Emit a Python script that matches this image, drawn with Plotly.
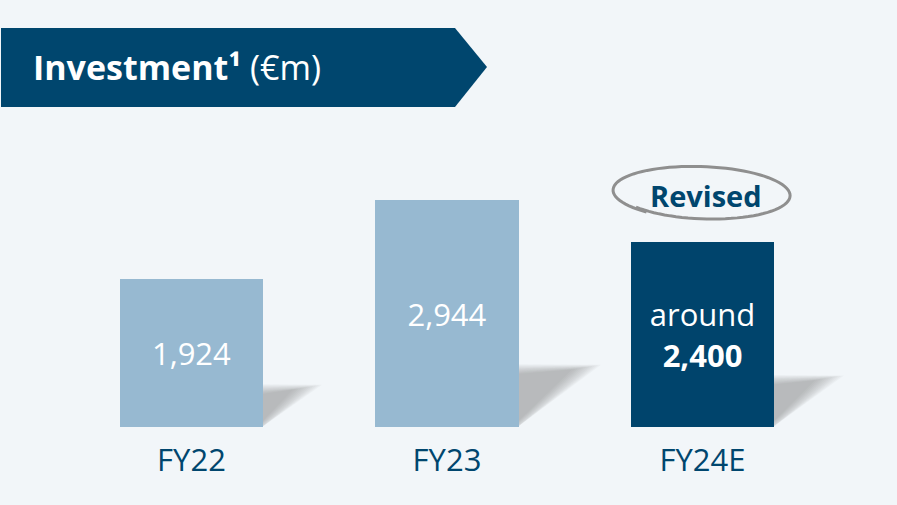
import math
import plotly.graph_objects as go

categories = ["FY22", "FY23", "FY24E"]
values = [1924, 2944, 2400]
value_labels = ["1,924", "2,944", "around<br><b>2,400</b>"]
bar_colors = ["#97b9d1", "#97b9d1", "#00446c"]
title_text = "<b>Investment¹</b> (€m)"
badge_text = "<b>Revised</b>"

W, H = 897, 505
BOTTOM = 78                      # px below baseline
PLOT_H = H - BOTTOM
UNITS_PER_PX = 12.97
PX_PER_CAT = 255.5
X0_PX = 191.5
BAR_W = 0.56

x_range = [-X0_PX / PX_PER_CAT, (W - X0_PX) / PX_PER_CAT]
y_range = [0, PLOT_H * UNITS_PER_PX]

BG = "#f2f6f9"
DARK = "#00466e"
FONT = "Open Sans"

fig = go.Figure()
fig.add_trace(go.Bar(
    x=list(range(len(categories))), y=values, width=BAR_W,
    marker=dict(color=bar_colors, line=dict(width=0)),
    text=value_labels, textposition="inside", insidetextanchor="middle",
    textfont=dict(color="white", size=31, family=FONT),
    hoverinfo="skip", cliponaxis=False,
))

shapes = []
# soft shadows cast to the right of each bar (many faint layers = blur)
grows = [-8, -6.4, -4.8, -3.2, -1.6, 0, 1.6, 3.2, 4.8, 6.4, 8]
for i, v in enumerate(values):
    xr = i + BAR_W / 2
    hpx = v / UNITS_PER_PX
    L = 0.30 * hpx
    Hs = 0.255 * hpx
    def pt(dx, dy):
        return (xr + dx / PX_PER_CAT, max(dy, 0) * UNITS_PER_PX)
    for g in grows:
        pts = [pt(-1, Hs + g * 0.6), pt(L + g * 1.8, Hs + 2 + g * 0.3),
               pt(-1, 1 - g * 0.5)]
        path = "M " + " L ".join(f"{a},{b}" for a, b in pts) + " Z"
        shapes.append(dict(type="path", path=path, xref="x", yref="y",
                           fillcolor="rgba(115,120,125,0.05)", line=dict(width=0),
                           layer="below"))

# banner ("paper" = plot area, which ends at the baseline)
def P(px, py):
    return (px / W, (PLOT_H - py) / PLOT_H)
bpts = [P(1, 28), P(455, 28), P(487, 67), P(455, 107), P(1, 107)]
shapes.append(dict(type="path", xref="paper", yref="paper",
                   path="M " + " L ".join(f"{a},{b}" for a, b in bpts) + " Z",
                   fillcolor=DARK, line=dict(width=0)))

# hand-drawn loop around "Revised" (slight overlap at lower left)
cx, cy, rx, ry, rot = 702, 193, 89, 26.5, 2.0
c, s_ = math.cos(math.radians(rot)), math.sin(math.radians(rot))
ept = []
n = 90
for k in range(n + 1):
    t = math.radians(128 + 372 * k / n)
    grow = 1 - 0.04 * (k / n) ** 3
    ex, ey = rx * grow * math.cos(t), ry * grow * math.sin(t)
    ept.append(P(cx + ex * c - ey * s_, cy + ex * s_ + ey * c))
shapes.append(dict(type="path", xref="paper", yref="paper",
                   path="M " + " L ".join(f"{a},{b}" for a, b in ept),
                   line=dict(color="#8f8f8f", width=3), fillcolor="rgba(0,0,0,0)"))

tx, ty = P(31, 67)
rx_, ry_ = P(706, 196)
annotations = [
    dict(text=title_text, xref="paper", yref="paper", x=tx, y=ty,
         xanchor="left", yanchor="middle", showarrow=False,
         font=dict(color="white", size=34, family=FONT)),
    dict(text=badge_text, xref="paper", yref="paper", x=rx_, y=ry_,
         xanchor="center", yanchor="middle", showarrow=False,
         font=dict(color=DARK, size=29, family=FONT)),
]

fig.update_layout(
    width=W, height=H, margin=dict(l=0, r=0, t=0, b=BOTTOM, pad=0),
    paper_bgcolor=BG, plot_bgcolor=BG, showlegend=False,
    shapes=shapes, annotations=annotations, bargap=0,
    xaxis=dict(range=x_range, tickvals=list(range(len(categories))), ticktext=categories,
               showgrid=False, zeroline=False, showline=False, ticks="",
               tickfont=dict(color=DARK, size=31, family=FONT),
               ticklabelstandoff=12, fixedrange=True),
    yaxis=dict(range=y_range, visible=False, fixedrange=True),
)
fig.write_html("out.html", config={"displayModeBar": False},
               post_script="document.body.style.margin='0';document.body.style.overflow='hidden';")
